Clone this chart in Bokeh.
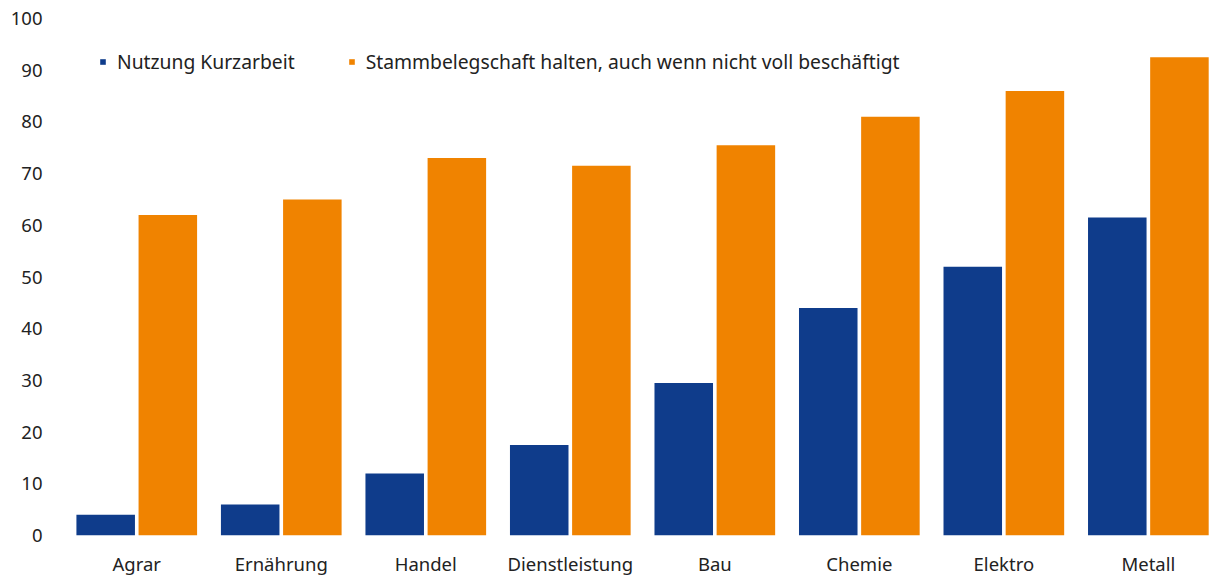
from bokeh.plotting import figure
from bokeh.models import ColumnDataSource, Range1d, FixedTicker, Legend, LegendItem
from bokeh.embed import file_html
from bokeh.resources import INLINE

categories = ["Agrar", "Ernährung", "Handel", "Dienstleistung", "Bau", "Chemie", "Elektro", "Metall"]
kurzarbeit = [4, 6, 12, 17.5, 29.5, 44, 52, 61.5]
stammbelegschaft = [62, 65, 73, 71.5, 75.5, 81, 86, 92.5]
y_ticks = [0, 10, 20, 30, 40, 50, 60, 70, 80, 90, 100]

BLUE = "#0F3C8B"
ORANGE = "#F08300"
FONT = "Noto Sans"
TEXT = "#222222"
FS = "18.5px"

x = list(range(len(categories)))
src = ColumnDataSource(dict(
    x1=[i - 0.215 for i in x],
    x2=[i + 0.215 for i in x],
    k=kurzarbeit,
    s=stammbelegschaft,
))

p = figure(width=1210, height=578, output_backend="svg", toolbar_location=None,
           x_range=Range1d(-0.5, 7.43), y_range=Range1d(0, 100),
           min_border_left=64, min_border_right=0, min_border_top=18, min_border_bottom=43)

r1 = p.vbar(x="x1", top="k", width=0.405, source=src, fill_color=BLUE, line_color=None)
r2 = p.vbar(x="x2", top="s", width=0.405, source=src, fill_color=ORANGE, line_color=None)

p.outline_line_color = None
p.xgrid.visible = False
p.ygrid.visible = False

p.yaxis.ticker = FixedTicker(ticks=y_ticks)
p.yaxis.axis_line_color = None
p.yaxis.major_tick_line_color = None
p.yaxis.minor_tick_line_color = None
p.yaxis.major_tick_out = 0
p.yaxis.major_tick_in = 0
p.yaxis.major_label_text_font = FONT
p.yaxis.major_label_text_font_size = FS
p.yaxis.major_label_text_color = TEXT
p.yaxis.major_label_standoff = 22

p.xaxis.ticker = FixedTicker(ticks=x)
p.xaxis.major_label_overrides = {i: c for i, c in enumerate(categories)}
p.xaxis.axis_line_color = None
p.xaxis.major_tick_line_color = None
p.xaxis.minor_tick_line_color = None
p.xaxis.major_tick_out = 0
p.xaxis.major_tick_in = 0
p.xaxis.major_label_text_font = FONT
p.xaxis.major_label_text_font_size = FS
p.xaxis.major_label_text_color = TEXT
p.xaxis.major_label_standoff = 15

legend = Legend(items=[
    LegendItem(label="Nutzung Kurzarbeit", renderers=[r1]),
    LegendItem(label="Stammbelegschaft halten, auch wenn nicht voll beschäftigt", renderers=[r2]),
], orientation="horizontal", location=(35, 460))
legend.border_line_color = None
legend.background_fill_alpha = 0
legend.padding = 0
legend.margin = 0
legend.glyph_width = 7
legend.glyph_height = 7
legend.label_standoff = 11
legend.spacing = 53
legend.label_text_font = FONT
legend.label_text_font_size = "19.3px"
legend.label_text_color = TEXT
p.add_layout(legend, "center")

open("out.html", "w").write(file_html(p, INLINE))
